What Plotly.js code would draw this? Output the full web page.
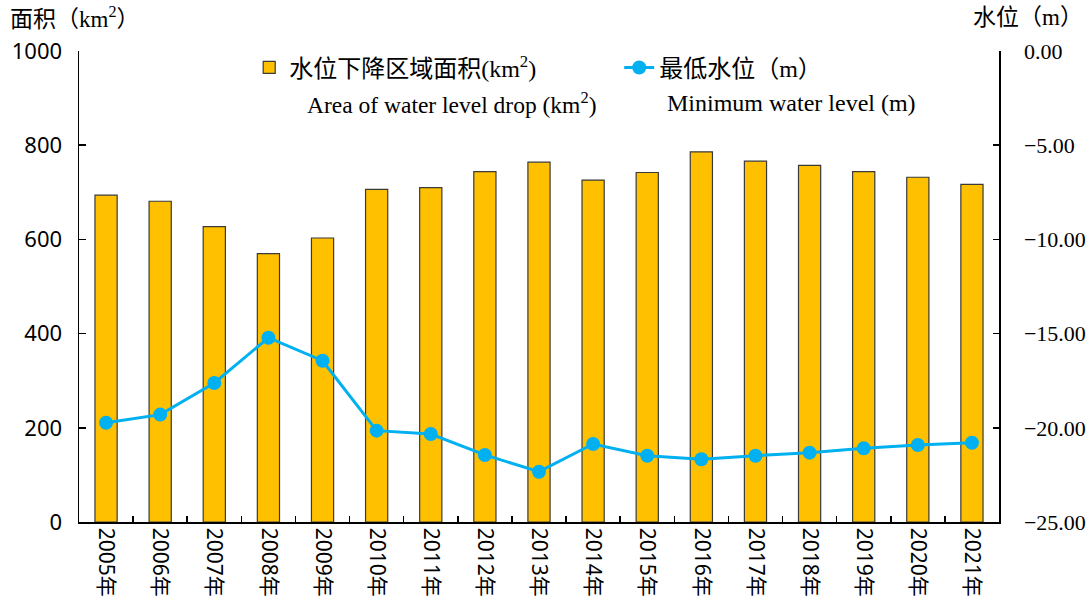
<!DOCTYPE html>
<html>
<head>
<meta charset="utf-8">
<script src="https://cdn.plot.ly/plotly-3.0.1.min.js"></script>
<style>html,body{margin:0;padding:0;background:#fff;}#chart{width:1089px;height:609px;}</style>
</head>
<body>
<div id="chart"></div>
<script>
const years = ["2005年","2006年","2007年","2008年","2009年","2010年","2011年","2012年","2013年","2014年","2015年","2016年","2017年","2018年","2019年","2020年","2021年"];
const areaValues = [694, 681, 627, 570, 603, 706, 710, 744, 764, 726, 742, 786, 766, 757, 744, 732, 717];
const minLevel = [-19.73, -19.30, -17.62, -15.22, -16.44, -20.15, -20.33, -21.44, -22.33, -20.86, -21.48, -21.67, -21.48, -21.32, -21.09, -20.91, -20.79];
const barName = "水位下降区域面积(km<sup>2</sup>)";
const lineName = "最低水位（m）";
const barNameEn = "Area of water level drop (km<sup>2</sup>)";
const lineNameEn = "Minimum water level (m)";
const leftTitle = "面积（km<sup>2</sup>）";
const rightTitle = "水位（m）";

const serif = "'Liberation Serif', 'Noto Sans CJK SC', serif";
const sans = "'Noto Sans', 'Noto Sans CJK SC', sans-serif";

const traces = [
  {
    type: "bar", x: years, y: areaValues, name: barName, yaxis: "y",
    width: 0.41,
    marker: {color: "#FFC000", line: {color: "#3a3a3a", width: 1.2}}
  },
  {
    type: "scatter", mode: "lines+markers", x: years, y: minLevel, name: lineName, yaxis: "y2",
    line: {color: "#00B0F0", width: 3},
    marker: {color: "#00B0F0", size: 14}
  }
];

const layout = {
  width: 1089, height: 609,
  margin: {l: 79, r: 90, t: 51, b: 87},
  paper_bgcolor: "#fff", plot_bgcolor: "#fff",
  showlegend: true,
  legend: {
    orientation: "h", x: 0.185, y: 1.012, xanchor: "left", yanchor: "top",
    font: {family: serif, size: 24, color: "#000"},
    bgcolor: "rgba(0,0,0,0)", entrywidth: 325, itemwidth: 30,
    traceorder: "normal"
  },
  xaxis: {
    type: "category", range: [-0.5, 16.5], autorange: false, automargin: false,
    showline: true, linecolor: "#000", linewidth: 1.5,
    ticks: "inside", tickson: "boundaries", ticklen: 6, tickcolor: "#000", tickwidth: 1.5,
    tickangle: 90, tickfont: {family: sans, size: 21, color: "#000"},
    showgrid: false, zeroline: false
  },
  yaxis: {
    range: [0, 1000], autorange: false, dtick: 200, automargin: false,
    showline: true, linecolor: "#000", linewidth: 1.5,
    ticks: "inside", ticklen: 7, tickcolor: "#000", tickwidth: 1.5,
    tickfont: {family: sans, size: 22, color: "#000"},
    showgrid: false, zeroline: false, ticklabelstandoff: 11
  },
  yaxis2: {
    overlaying: "y", side: "right", range: [-25, 0], autorange: false, dtick: 5, tickformat: ".2f",
    automargin: false, showline: true, linecolor: "#000", linewidth: 1.5,
    ticks: "inside", ticklen: 6, tickcolor: "#000", tickwidth: 1.5,
    tickfont: {family: serif, size: 22, color: "#000"},
    showgrid: false, zeroline: false, ticklabelstandoff: 19
  },
  annotations: [
    {xref: "paper", yref: "paper", x: -0.077, y: 1.072, xanchor: "left", yanchor: "middle", showarrow: false,
     text: leftTitle, font: {family: serif, size: 23, color: "#000"}},
    {xref: "paper", yref: "paper", x: 1.0935, y: 1.072, xanchor: "right", yanchor: "middle", showarrow: false,
     text: rightTitle, font: {family: serif, size: 23, color: "#000"}},
    {xref: "paper", yref: "paper", x: 0.2457, y: 0.8896, xanchor: "left", yanchor: "middle", showarrow: false,
     text: barNameEn, font: {family: serif, size: 23.5, color: "#000"}},
    {xref: "paper", yref: "paper", x: 0.637, y: 0.8896, xanchor: "left", yanchor: "middle", showarrow: false,
     text: lineNameEn, font: {family: serif, size: 24, color: "#000"}}
  ]
};

Plotly.newPlot("chart", traces, layout, {displayModeBar: false, staticPlot: true});
</script>
</body>
</html>
